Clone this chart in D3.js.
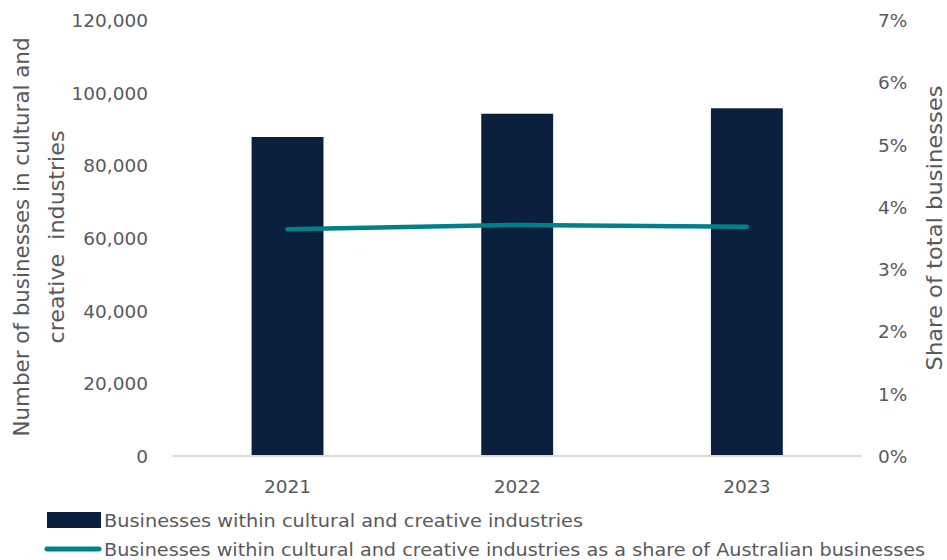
<!DOCTYPE html>
<html>
<head>
<meta charset="utf-8">
<script src="https://cdn.jsdelivr.net/npm/d3@7"></script>
<style>
  html, body { margin: 0; padding: 0; background: #fff; }
  svg text { font-family: "DejaVu Sans", sans-serif; fill: #595959; }
</style>
</head>
<body>
<svg id="chart" width="947" height="560"></svg>
<script>
// Businesses in cultural and creative industries, Australia
const years = ["2021", "2022", "2023"];
const businessCounts = [87800, 94200, 95700];
const shareOfAll = [3.64, 3.71, 3.68];           // per cent of all Australian businesses
const leftTicks = [0, 20000, 40000, 60000, 80000, 100000, 120000];
const rightTicks = [0, 1, 2, 3, 4, 5, 6, 7];
const barLabel = "Businesses within cultural and creative industries";
const lineLabel = "Businesses within cultural and creative industries as a share of Australian businesses";
const leftTitle = ["Number of businesses in cultural and", "creative  industries"];
const rightTitle = "Share of total businesses";

const barColor = "#0b1f3f";
const lineColor = "#00818a";

const svg = d3.select("#chart");
const plot = { left: 172.7, right: 861.7, top: 20, bottom: 456 };

const x = d3.scaleBand()
  .domain(years)
  .range([plot.left, plot.right])
  .paddingInner(0.687)
  .paddingOuter(0.3435);

const yLeft = d3.scaleLinear().domain([0, 120000]).range([plot.bottom, plot.top]);
const yRight = d3.scaleLinear().domain([0, 7]).range([plot.bottom, plot.top]);

// Bars
svg.append("g")
  .selectAll("rect")
  .data(years)
  .join("rect")
  .attr("x", d => x(d))
  .attr("width", x.bandwidth())
  .attr("y", (d, i) => yLeft(businessCounts[i]))
  .attr("height", (d, i) => yLeft(0) - yLeft(businessCounts[i]))
  .attr("fill", barColor);

// Category baseline
svg.append("line")
  .attr("x1", plot.left).attr("x2", plot.right)
  .attr("y1", plot.bottom).attr("y2", plot.bottom)
  .attr("stroke", "#d9d9d9").attr("stroke-width", 2);

// Share line
const line = d3.line()
  .x((d, i) => x(years[i]) + x.bandwidth() / 2)
  .y(d => yRight(d));
svg.append("path")
  .datum(shareOfAll)
  .attr("d", line)
  .attr("fill", "none")
  .attr("stroke", lineColor)
  .attr("stroke-width", 4.5)
  .attr("stroke-linecap", "round")
  .attr("stroke-linejoin", "round");

// Left axis
const fmt = d3.format(",");
const axL = d3.axisLeft(yLeft).tickValues(leftTicks).tickFormat(fmt).tickSize(0).tickPadding(0);
const gL = svg.append("g").attr("transform", "translate(148,0)").call(axL);
gL.select(".domain").remove();
gL.selectAll("text").attr("font-size", 18.5).attr("font-family", "DejaVu Sans").attr("fill", "#595959").attr("dy", "0.35em");

// Right axis
const axR = d3.axisRight(yRight).tickValues(rightTicks).tickFormat(d => d + "%").tickSize(0).tickPadding(0);
const gR = svg.append("g").attr("transform", "translate(878,0)").call(axR);
gR.select(".domain").remove();
gR.selectAll("text").attr("font-size", 18.5).attr("font-family", "DejaVu Sans").attr("fill", "#595959").attr("dy", "0.35em");

// Bottom axis
const axB = d3.axisBottom(x).tickSize(0).tickPadding(0);
const gB = svg.append("g").attr("transform", "translate(0,480)").call(axB);
gB.select(".domain").remove();
gB.selectAll("text").attr("font-size", 18.5).attr("font-family", "DejaVu Sans").attr("fill", "#595959").attr("dy", "0.71em");

// Axis titles
const tl = svg.append("text")
  .attr("transform", "translate(22,237) rotate(-90)")
  .attr("text-anchor", "middle")
  .attr("font-size", 20.5);
tl.append("tspan").attr("x", 0).attr("dy", "0.35em")
  .attr("textLength", 399).attr("lengthAdjust", "spacingAndGlyphs").text(leftTitle[0]);
tl.append("tspan").attr("x", 0).attr("dy", "1.68em").style("white-space", "pre")
  .attr("textLength", 213).attr("lengthAdjust", "spacingAndGlyphs").text(leftTitle[1]);

svg.append("text")
  .attr("transform", "translate(935,228) rotate(-90)")
  .attr("text-anchor", "middle")
  .attr("dy", "0.35em")
  .attr("font-size", 20.5)
  .attr("textLength", 285).attr("lengthAdjust", "spacingAndGlyphs")
  .text(rightTitle);

// Legend
const lg = svg.append("g");
lg.append("rect").attr("x", 47).attr("y", 512).attr("width", 54).attr("height", 16).attr("fill", barColor);
lg.append("text").attr("x", 104).attr("y", 527)
  .attr("font-size", 17.5).attr("textLength", 479).attr("lengthAdjust", "spacingAndGlyphs")
  .text(barLabel);
lg.append("line").attr("x1", 47).attr("x2", 99).attr("y1", 549).attr("y2", 549)
  .attr("stroke", lineColor).attr("stroke-width", 5).attr("stroke-linecap", "round");
lg.append("text").attr("x", 104).attr("y", 556)
  .attr("font-size", 17.5).attr("textLength", 821).attr("lengthAdjust", "spacingAndGlyphs")
  .text(lineLabel);
</script>
</body>
</html>
